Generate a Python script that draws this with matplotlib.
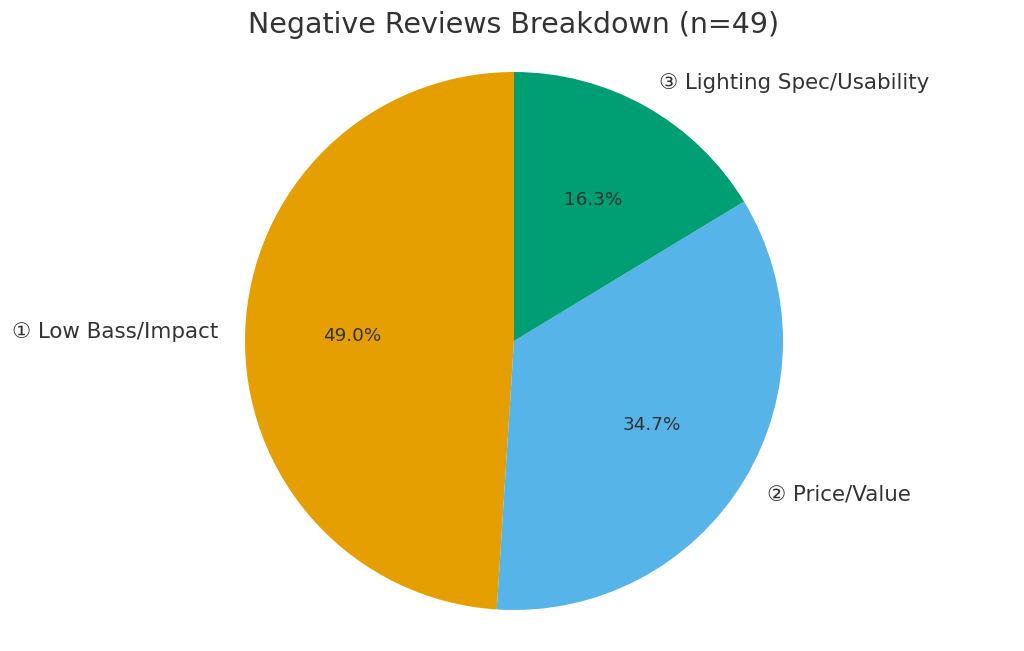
import matplotlib
matplotlib.use("Agg")
import matplotlib.pyplot as plt

# 负面评价分类
labels = ["① Low Bass/Impact", "② Price/Value", "③ Lighting Spec/Usability"]
counts = [24, 17, 8]
colors = ["#E69F00", "#56B4E9", "#009E73"]
title = "Negative Reviews Breakdown (n=49)"

fig = plt.figure(figsize=(10.24, 6.51), dpi=100)
ax = fig.add_axes([0, 0, 1, 1])

wedges, texts, autotexts = ax.pie(counts, labels=labels, colors=colors,
                                  autopct="%1.1f%%", startangle=90,
                                  textprops={"color": "#333333", "fontsize": 15.4})
for t in autotexts:
    t.set_fontsize(13.2)

# 饼图中心 (514, 341)，半径 269 px
r = 269
cx, cy = 514, 651 - 341
ax.set_xlim(-cx / r, (1024 - cx) / r)
ax.set_ylim(-cy / r, (651 - cy) / r)
ax.set_aspect("auto")
ax.text(0, (651 - 25 - cy) / r, title, ha="center", va="center",
        fontsize=20.5, color="#333333")
ax.axis("off")

fig.savefig("out.png", dpi=100)
